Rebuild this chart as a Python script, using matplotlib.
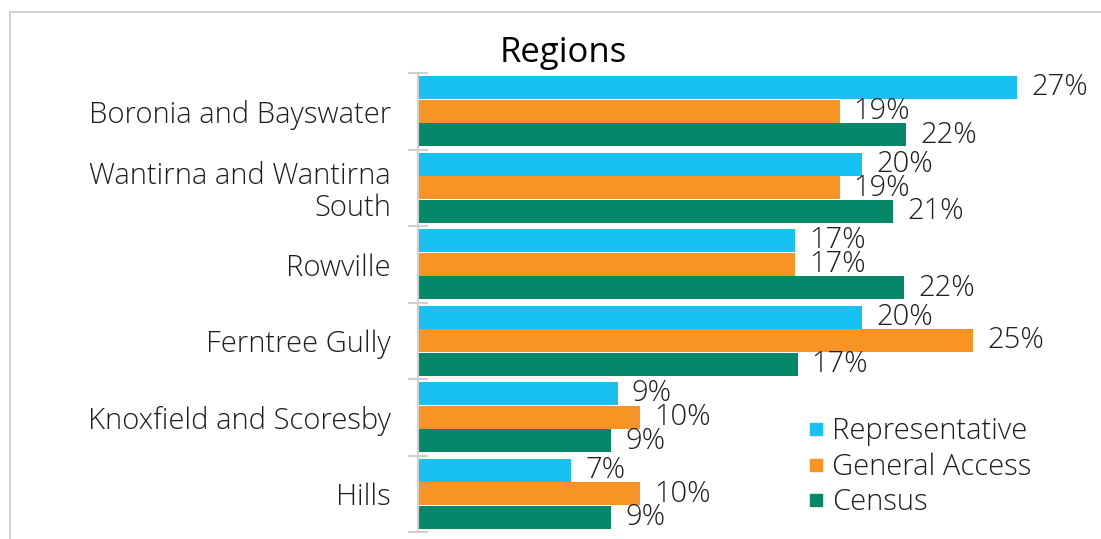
import numpy as np
import matplotlib.pyplot as plt
from matplotlib.patches import Rectangle
from matplotlib.lines import Line2D

regions = ["Boronia and Bayswater", "Wantirna and Wantirna\nSouth", "Rowville",
           "Ferntree Gully", "Knoxfield and Scoresby", "Hills"]
series = ["Representative", "General Access", "Census"]
representative = [27.0, 20.0, 17.0, 20.0, 9.0, 6.9]
general_access = [19.0, 19.0, 17.0, 25.0, 10.0, 10.0]
census = [22.0, 21.4, 21.9, 17.1, 8.7, 8.7]
colors = ["#17C1F1", "#F79423", "#07876A"]

plt.rcParams["font.family"] = ["Open Sans", "DejaVu Sans"]
TXT = "#1E1E1E"
W = "light"
FS = 21

fig = plt.figure(figsize=(11.01, 5.39), dpi=100)
ax = fig.add_axes([418 / 1101, 1 - 532 / 539, 666 / 1101, 459 / 539])

n = len(regions)
y = np.arange(n)
h = 0.31
for i, (vals, name, col) in enumerate(zip([representative, general_access, census], series, colors)):
    bars = ax.barh(y - h + i * h, vals, height=h * 0.97, color=col, label=name)
    ax.bar_label(bars, labels=[f"{round(v):.0f}%" for v in vals], padding=10,
                 fontsize=FS, color=TXT, fontweight=W)

ax.set_xlim(0, 30)
ax.set_ylim(n - 0.5, -0.5)
ax.set_xticks([])
ax.set_yticks(y)
ax.set_yticklabels(regions, fontsize=FS, color=TXT, fontweight=W,
                   ha="right", linespacing=1.12)
ax.tick_params(axis="y", which="major", length=0, pad=19.5)
ax.set_yticks(np.arange(-0.5, n, 1.0), minor=True)
ax.tick_params(axis="y", which="minor", length=14, direction="inout",
               color="#D0D0D0", width=1.5)
for s in ["top", "right", "bottom"]:
    ax.spines[s].set_visible(False)
ax.spines["left"].set_color("#D0D0D0")
ax.spines["left"].set_linewidth(1.5)

fig.text(563 / 1101, 1 - 53 / 539, "Regions", fontsize=25, color="#000000",
         ha="center", va="center", fontweight="normal")

# chart frame (cropped at right and bottom)
fig.add_artist(Rectangle((10 / 1101, -0.1), 1.2, 1 - 12 / 539 + 0.1,
                         transform=fig.transFigure, fill=False,
                         edgecolor="#C8C8C8", linewidth=1.2))

handles = [Line2D([], [], marker="s", linestyle="none", markersize=9,
                  markerfacecolor=c, markeredgecolor=c) for c in colors]
leg = fig.legend(handles, series, loc="center left",
                 bbox_to_anchor=(790 / 1101, 1 - 467 / 539), frameon=False,
                 fontsize=FS, handletextpad=0.05, labelspacing=0.2,
                 handlelength=1.0, borderaxespad=0)
for t in leg.get_texts():
    t.set_color(TXT)
    t.set_fontweight(W)

fig.savefig("out.png", dpi=100)
